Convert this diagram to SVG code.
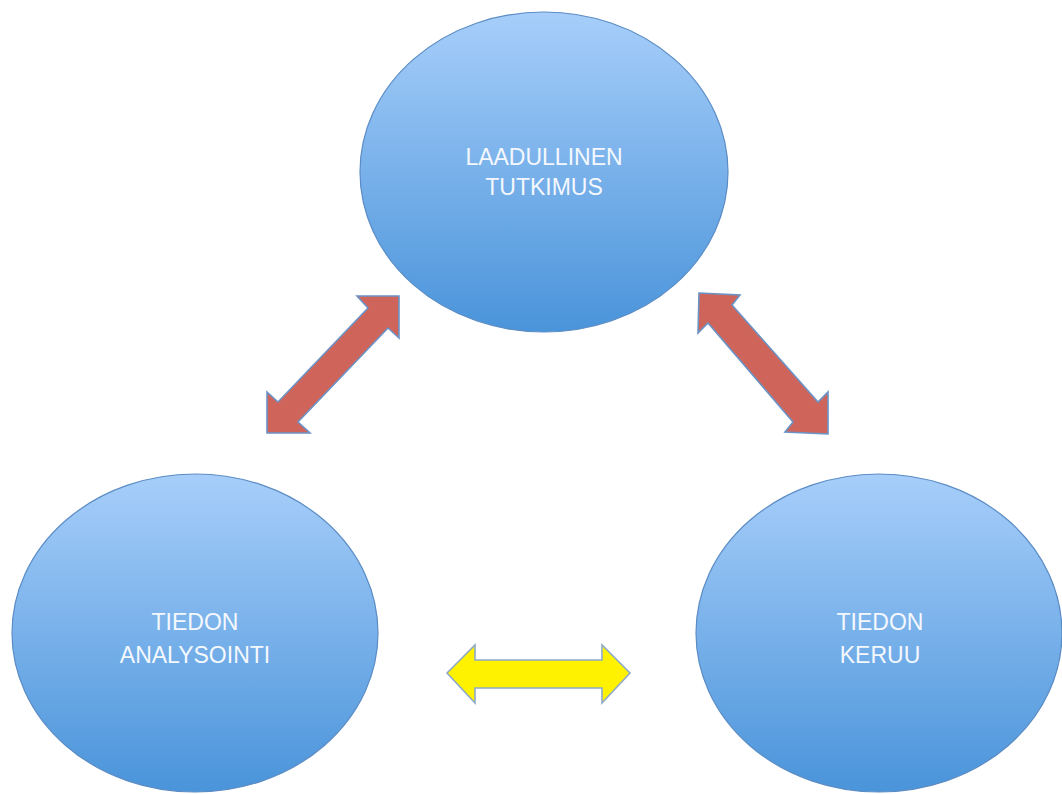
<svg xmlns="http://www.w3.org/2000/svg" width="1062" height="794" viewBox="0 0 1062 794">
  <defs>
    <linearGradient id="bubble" x1="0" y1="0" x2="0" y2="1">
      <stop offset="0" stop-color="#a7cefa"/>
      <stop offset="1" stop-color="#4a94da"/>
    </linearGradient>
    <filter id="soft" x="-5%" y="-5%" width="110%" height="110%">
      <feGaussianBlur stdDeviation="0.5"/>
    </filter>
  </defs>
  <style>
    .node ellipse { fill: url(#bubble); stroke: #5b8cc4; stroke-width: 1.2; }
    .node text { font-family: "Liberation Sans", Arial, sans-serif; font-size: 23px; fill: #f4f8fd; text-anchor: middle; }
    .arrow { stroke: #6b93c6; stroke-width: 1.6; stroke-linejoin: miter; filter: url(#soft); }
    .red { fill: #cf655a; }
    .yellow { fill: #fff200; stroke: #8fa9c9; }
  </style>
  <rect width="1062" height="794" fill="#ffffff"/>

  <g id="node-laadullinen" class="node">
    <ellipse cx="544" cy="172" rx="184" ry="160"/>
    <text x="544" y="165">LAADULLINEN</text>
    <text x="544" y="195">TUTKIMUS</text>
  </g>

  <g id="node-analysointi" class="node">
    <ellipse cx="195" cy="633" rx="183" ry="159"/>
    <text x="195" y="630">TIEDON</text>
    <text x="195" y="663">ANALYSOINTI</text>
  </g>

  <g id="node-keruu" class="node">
    <ellipse cx="879" cy="633" rx="183" ry="159"/>
    <text x="880" y="630">TIEDON</text>
    <text x="880" y="663">KERUU</text>
  </g>

  <g id="connectors">
    <!-- analysointi <-> tutkimus -->
    <polygon class="arrow red" points="399,296 399,338 388,328 298,422 310,433 267,433 267,392 278,402 368,308 357,296"/>
    <!-- tutkimus <-> keruu -->
    <polygon class="arrow red" points="699,293 740,295 732,305 818,402 828,392 828,434 785,432 793,422 708,323 698,333"/>
    <!-- analysointi <-> keruu -->
    <polygon class="arrow yellow" points="447,673 475,645 475,660 602,660 602,645 630,673 602,703 602,688 475,688 475,703"/>
  </g>
</svg>
